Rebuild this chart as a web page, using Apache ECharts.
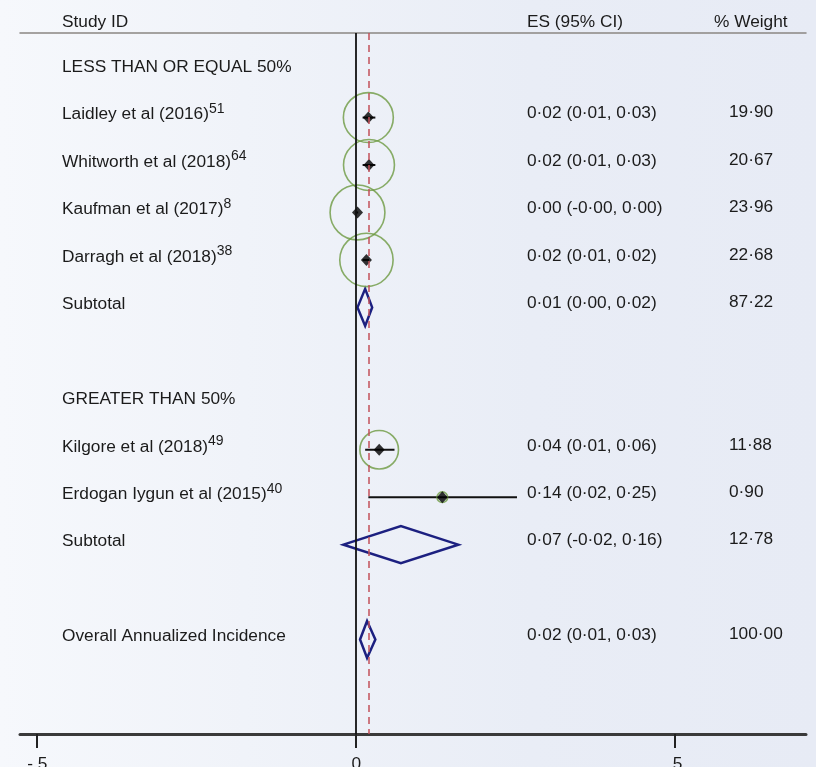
<!DOCTYPE html>
<html>
<head>
<meta charset="utf-8">
<style>
  html, body { margin: 0; padding: 0; }
  #chart {
    width: 816px;
    height: 767px;
    background: linear-gradient(90deg, #f6f8fc 0%, #f0f3f9 30%, #e9edf6 65%, #e7ebf5 100%);
  }
</style>
<script src="https://cdn.jsdelivr.net/npm/echarts@6.0.0/dist/echarts.min.js"></script>
</head>
<body>
<div id="chart"></div>
<script>
// printed rows, top to bottom (row index = line slot on the plot)
const rowPos = [0, 1, 2, 3, 4, 5, 7, 8, 9, 10, 12];
const rowNames = [
  'LESS THAN OR EQUAL 50%',
  'Laidley et al (2016)',
  'Whitworth et al (2018)',
  'Kaufman et al (2017)',
  'Darragh et al (2018)',
  'Subtotal',
  'GREATER THAN 50%',
  'Kilgore et al (2018)',
  'Erdogan Iygun et al (2015)',
  'Subtotal',
  'Overall Annualized Incidence'
];
const rowRefs = ['', '51', '64', '8', '38', '', '', '49', '40', '', ''];
const esText = [
  '', '0·02 (0·01, 0·03)', '0·02 (0·01, 0·03)', '0·00 (-0·00, 0·00)', '0·02 (0·01, 0·02)',
  '0·01 (0·00, 0·02)', '', '0·04 (0·01, 0·06)', '0·14 (0·02, 0·25)', '0·07 (-0·02, 0·16)',
  '0·02 (0·01, 0·03)'
];
const weightText = [
  '', '19·90', '20·67', '23·96', '22·68', '87·22', '', '11·88', '0·90', '12·78', '100·00'
];

// individual studies
const studyRows = [1, 2, 3, 4, 8, 9];
const studyEs = [0.019, 0.020, 0.002, 0.016, 0.036, 0.135];
const studyLow = [0.010, 0.010, -0.001, 0.010, 0.014, 0.019];
const studyHigh = [0.030, 0.030, 0.003, 0.020, 0.060, 0.252];
const studyWeight = [19.90, 20.67, 23.96, 22.68, 11.88, 0.90];

// pooled estimates: subtotal 1, subtotal 2, overall
const poolRows = [5, 10, 12];
const poolEs = [0.014, 0.070, 0.017];
const poolLow = [0.002, -0.020, 0.006];
const poolHigh = [0.025, 0.160, 0.030];

const overallEs = 0.017;
const xTicks = [-0.5, 0, 0.5];

const FONT = '"Liberation Sans", Arial, sans-serif';
const FS = 17.3;
const TEXT_COLOR = '#1b1b1b';

const chart = echarts.init(document.getElementById('chart'));

function renderCi(params, api) {
  const row = api.value(2);
  const a = api.coord([api.value(0), row]);
  const b = api.coord([api.value(1), row]);
  return {
    type: 'line',
    shape: { x1: a[0], y1: a[1], x2: b[0], y2: b[1] },
    style: { stroke: '#111', lineWidth: 2 }
  };
}

function renderDiamond(params, api) {
  const row = api.value(3);
  const c = api.coord([api.value(0), row]);
  const l = api.coord([api.value(1), row]);
  const r = api.coord([api.value(2), row]);
  const h = 18.5;
  return {
    type: 'polygon',
    shape: { points: [[l[0], l[1]], [c[0], c[1] - h], [r[0], r[1]], [c[0], c[1] + h]] },
    style: { fill: 'none', stroke: '#1c2080', lineWidth: 2.5 }
  };
}

function renderLabels(params, api) {
  const i = params.dataIndex;
  const y = api.coord([0, api.value(0)])[1];
  const name = rowRefs[i]
    ? '{n|' + rowNames[i] + '}{s|' + rowRefs[i] + '}'
    : '{n|' + rowNames[i] + '}';
  const rich = {
    n: { fontSize: FS, fontFamily: FONT, fill: TEXT_COLOR, lineHeight: 25 },
    s: { fontSize: 14, fontFamily: FONT, fill: TEXT_COLOR, lineHeight: 14, verticalAlign: 'top' }
  };
  return {
    type: 'group',
    children: [
      {
        type: 'text', x: 62, y: y - 3,
        style: { text: name, rich: rich, align: 'left', verticalAlign: 'middle' }
      },
      {
        type: 'text', x: 527, y: y - 4,
        style: { text: esText[i], font: FS + 'px ' + FONT, fill: TEXT_COLOR, align: 'left', verticalAlign: 'middle' }
      },
      {
        type: 'text', x: 729, y: y - 5,
        style: { text: weightText[i], font: FS + 'px ' + FONT, fill: TEXT_COLOR, align: 'left', verticalAlign: 'middle' }
      }
    ]
  };
}

const option = {
  animation: false,
  backgroundColor: 'transparent',
  grid: { left: 20, right: 10, top: 33, bottom: 33, outerBoundsMode: 'none', containLabel: false },
  xAxis: [
    {
      type: 'value',
      min: -0.527,
      max: 0.705,
      position: 'bottom',
      splitLine: { show: false },
      axisLine: { show: true, onZero: false, lineStyle: { color: '#3a3a3a', width: 3 } },
      axisTick: { show: true, customValues: xTicks, length: 14, lineStyle: { color: '#222', width: 2 } },
      axisLabel: {
        customValues: xTicks,
        margin: 22,
        fontSize: FS,
        fontFamily: FONT,
        color: TEXT_COLOR,
        formatter: v => (v === 0 ? '0' : (v < 0 ? '-.5' : '.5'))
      }
    },
    {
      type: 'value',
      min: -0.527,
      max: 0.705,
      position: 'top',
      splitLine: { show: false },
      axisLine: { show: true, onZero: false, lineStyle: { color: '#8a8682', width: 1.5 } },
      axisTick: { show: false },
      axisLabel: { show: false }
    }
  ],
  yAxis: {
    type: 'value',
    min: -0.782,
    max: 13.99,
    inverse: true,
    show: false
  },
  graphic: [
    { type: 'text', left: 62, top: 14, style: { text: 'Study ID', font: FS + 'px ' + FONT, fill: TEXT_COLOR } },
    { type: 'text', left: 527, top: 14, style: { text: 'ES (95% CI)', font: FS + 'px ' + FONT, fill: TEXT_COLOR } },
    { type: 'text', left: 714, top: 14, style: { text: '% Weight', font: FS + 'px ' + FONT, fill: TEXT_COLOR } }
  ],
  series: [
    {
      // reference lines: null effect and overall estimate
      type: 'line',
      data: [],
      markLine: {
        silent: true,
        symbol: ['none', 'none'],
        label: { show: false },
        data: [
          { xAxis: 0, lineStyle: { color: '#111', type: 'solid', width: 1.8 } },
          { xAxis: overallEs, lineStyle: { color: '#c2505a', type: [7, 5], width: 1.5 } }
        ]
      }
    },
    {
      type: 'custom',
      clip: false,
      renderItem: renderCi,
      data: studyRows.map((r, i) => [studyLow[i], studyHigh[i], r])
    },
    {
      type: 'scatter',
      symbol: 'circle',
      symbolSize: d => 2 * 5.6 * Math.sqrt(d[2]),
      itemStyle: { color: 'rgba(0,0,0,0)', borderColor: '#6d9a41', borderWidth: 1.6 },
      data: studyRows.map((r, i) => [studyEs[i], r, studyWeight[i]])
    },
    {
      type: 'scatter',
      symbol: 'diamond',
      symbolSize: [11, 12],
      itemStyle: { color: '#000' },
      data: studyRows.map((r, i) => [studyEs[i], r])
    },
    {
      type: 'custom',
      clip: false,
      renderItem: renderDiamond,
      data: poolRows.map((r, i) => [poolEs[i], poolLow[i], poolHigh[i], r])
    },
    {
      type: 'custom',
      clip: false,
      renderItem: renderLabels,
      data: rowPos.map(r => [r])
    }
  ]
};

chart.setOption(option);
</script>
</body>
</html>
